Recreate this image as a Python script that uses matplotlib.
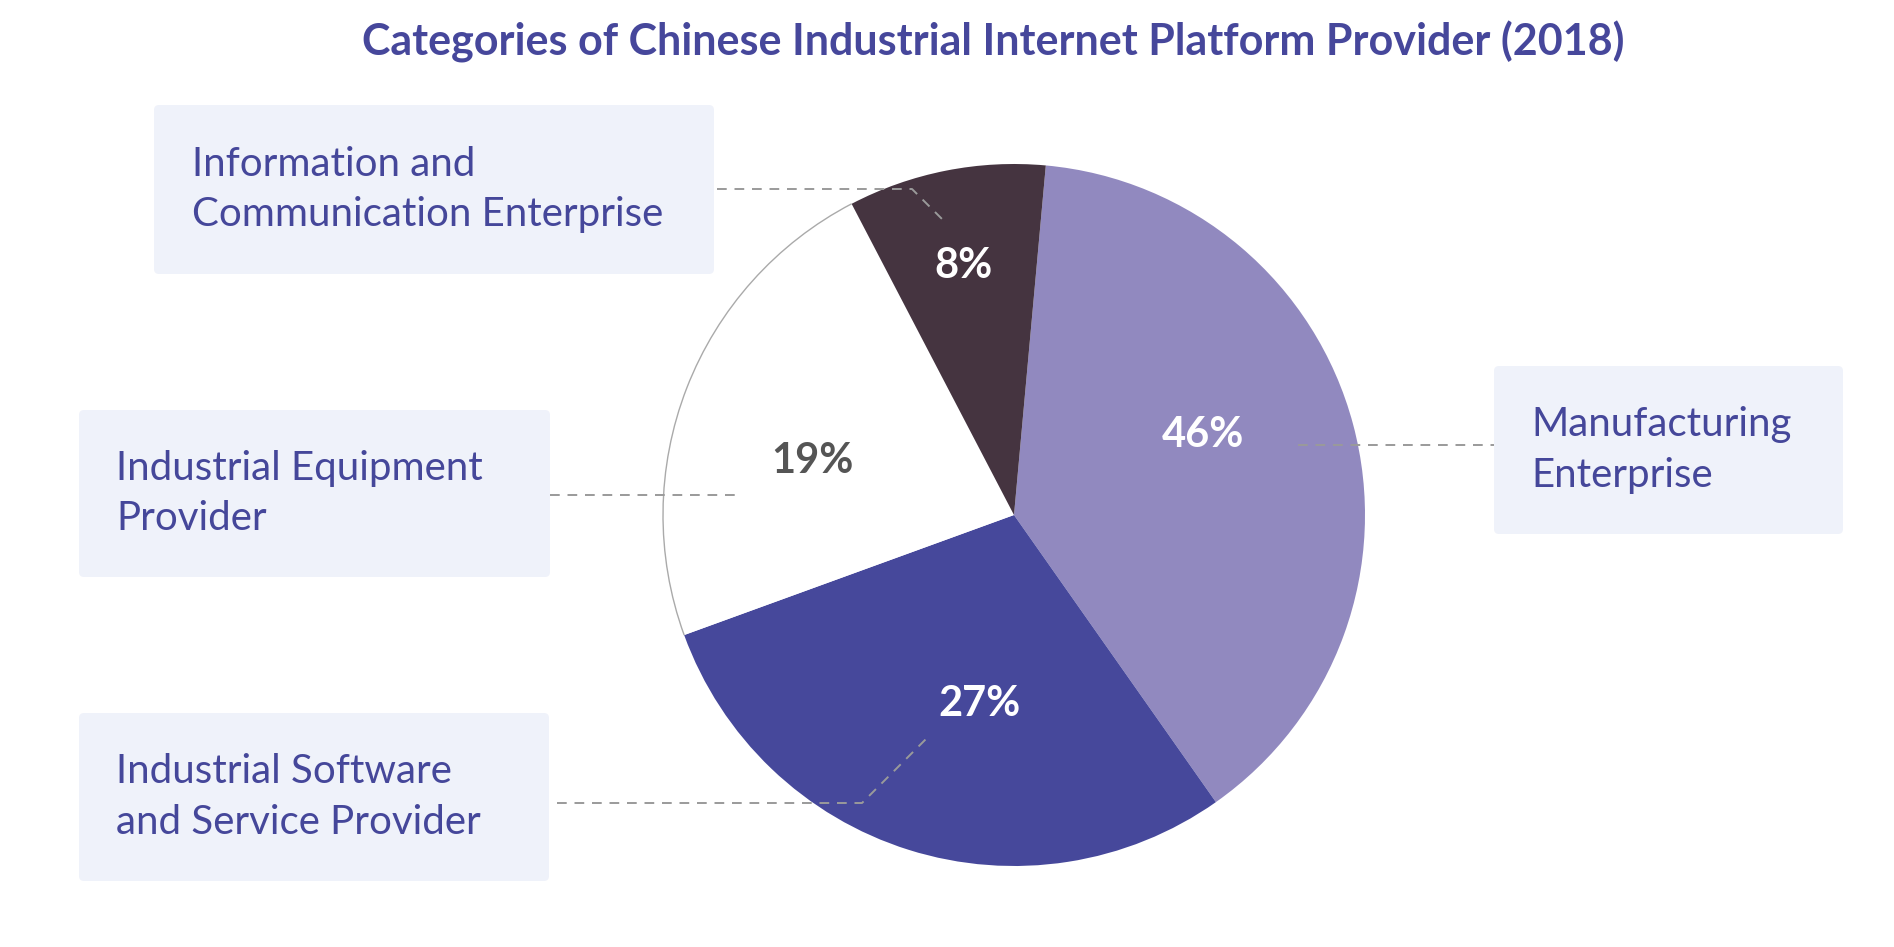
import matplotlib
matplotlib.use('Agg')
import matplotlib.pyplot as plt
from matplotlib.patches import FancyBboxPatch, Arc

# data
categories = ['Manufacturing\nEnterprise',
              'Industrial Software\nand Service Provider',
              'Industrial Equipment\nProvider',
              'Information and\nCommunication Enterprise']
pct_labels = ['46%', '27%', '19%', '8%']
# slice sizes as drawn in the source image (degrees / 3.6)
shares = [38.8, 29.2, 22.9, 9.1]
colors = ['#9189bf', '#46489b', '#ffffff', '#453440']
pct_colors = ['white', 'white', '#555555', 'white']
title = 'Categories of Chinese Industrial Internet Platform Provider (2018)'

W, H = 1894, 947
plt.rcParams['font.family'] = ['Lato', 'DejaVu Sans']

fig = plt.figure(figsize=(W / 100, H / 100), dpi=100)
ax = fig.add_axes([0, 0, 1, 1])

cx, cy, r = 1014, H - 515, 351
start = 84.8
wedges, _ = ax.pie(shares, colors=colors, startangle=start, counterclock=False,
                   center=(cx, cy), radius=r,
                   wedgeprops=dict(linewidth=0))
# thin outline on the white slice
w = wedges[2]
ax.add_patch(Arc((cx, cy), 2 * r, 2 * r, theta1=w.theta1, theta2=w.theta2,
                 color='#aaaaaa', lw=1))

ax.set_xlim(0, W)
ax.set_ylim(0, H)
ax.set_aspect('auto')
ax.axis('off')

txt_col = '#45479a'
dash = dict(color='#9a9a9a', lw=1.4, ls=(0, (5, 4)))

# label boxes: (x0, y0_top, x1, y1_bottom), text x, leader line points
boxes = [
    ((1494, 366, 1843, 534), 1531, [(1298, 445), (1494, 445)]),
    ((79, 713, 549, 881), 116, [(557, 803), (862, 803), (930, 735)]),
    ((79, 410, 550, 577), 116, [(550, 495), (742, 495)]),
    ((154, 105, 714, 274), 192, [(717, 189), (912, 189), (945, 222)]),
]

for lab, ((x0, y0, x1, y1), tx, pts) in zip(categories, boxes):
    ax.add_patch(FancyBboxPatch((x0, H - y1), x1 - x0, y1 - y0,
                                boxstyle='round,pad=0,rounding_size=5',
                                fc='#eff2fa', ec='none', zorder=0))
    ax.text(tx, H - (y0 + y1) / 2, lab, fontsize=29, color=txt_col,
            ha='left', va='center', linespacing=1.44)
    ax.plot([p[0] for p in pts], [H - p[1] for p in pts], **dash, zorder=3)

# percentage labels
pct_pos = [(1203, 435), (980, 704), (812, 461), (963, 266)]
for s, c, (px, py) in zip(pct_labels, pct_colors, pct_pos):
    ax.text(px, H - py, s, fontsize=30, fontweight='bold', color=c,
            ha='center', va='center', zorder=4)

ax.text(993, H - 42, title, fontsize=31, fontweight='bold', color='#46479b',
        ha='center', va='center')

fig.savefig('out.png', dpi=100)
